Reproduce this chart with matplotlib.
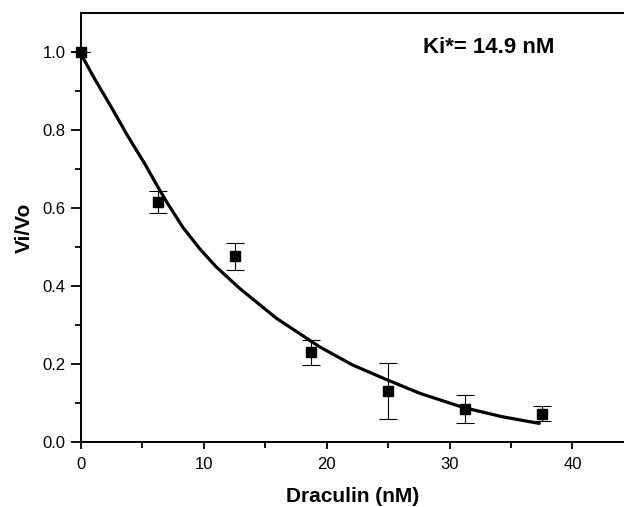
import numpy as np
import matplotlib
matplotlib.use("Agg")
import matplotlib.pyplot as plt

plt.rcParams['font.family'] = ['Liberation Sans', 'DejaVu Sans']

# measured points
conc = [0, 6.25, 12.5, 18.75, 25, 31.25, 37.5]
ratio = [1.0, 0.615, 0.476, 0.229, 0.131, 0.084, 0.072]
err = [0.0, 0.028, 0.035, 0.032, 0.072, 0.035, 0.02]

# fitted curve
fit_x = [0, 1.1, 2.5, 3.8, 5.2, 6.2, 7.0, 8.3, 9.7, 11.0, 12.9, 15.9,
         19.4, 22.1, 24.9, 27.6, 31.1, 34.3, 37.3]
fit_y = [0.995, 0.932, 0.857, 0.785, 0.713, 0.657, 0.614, 0.550, 0.494,
         0.449, 0.394, 0.317, 0.244, 0.197, 0.159, 0.124, 0.088, 0.064, 0.047]

fig = plt.figure(figsize=(6.24, 5.07), dpi=100)
ax = fig.add_axes([0.1298, 0.1288, 0.8702, 0.8452])

ax.plot(fit_x, fit_y, color='black', lw=2.3, solid_joinstyle='round',
        solid_capstyle='round', zorder=2)
ax.errorbar(conc, ratio, yerr=err, fmt='s', color='black', ms=6.5,
            ecolor='black', elinewidth=0.8, capsize=6.5, capthick=0.8,
            clip_on=False, zorder=3)

ax.set_xlim(0, 44.2)
ax.set_ylim(0, 1.1)
ax.set_xticks([0, 10, 20, 30, 40])
ax.set_xticks([5, 15, 25, 35], minor=True)
ax.set_yticks([0.0, 0.2, 0.4, 0.6, 0.8, 1.0])
ax.set_yticks([0.1, 0.3, 0.5, 0.7, 0.9], minor=True)
ax.set_yticklabels(['0.0', '0.2', '0.4', '0.6', '0.8', '1.0'])

for s in ['left', 'bottom', 'top']:
    ax.spines[s].set_linewidth(1.4)
ax.spines['right'].set_visible(False)

ax.tick_params(axis='y', which='major', direction='out', length=7, width=1.3,
               labelsize=12, pad=4)
ax.tick_params(axis='y', which='minor', direction='out', length=4, width=1.3)
ax.tick_params(axis='x', which='major', direction='out', length=5, width=1.3,
               labelsize=12, pad=6)
ax.tick_params(axis='x', which='minor', direction='out', length=4, width=1.3)

ax.set_xlabel('Draculin (nM)', fontsize=15, fontweight='bold', labelpad=11)
ax.set_ylabel('Vi/Vo', fontsize=15, fontweight='bold', labelpad=6)

ax.text(0.63, 0.92, 'Ki*= 14.9 nM', transform=ax.transAxes, fontsize=16,
        fontweight='bold', ha='left', va='center')

fig.savefig('out.png', dpi=100)
